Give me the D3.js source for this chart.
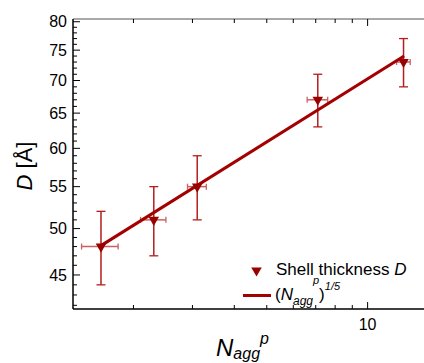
<!DOCTYPE html>
<html>
<head>
<meta charset="utf-8">
<script src="https://cdn.jsdelivr.net/npm/d3@7"></script>
<style>
  body { margin: 0; background: #fff; }
  svg { display: block; font-family: "Liberation Sans", Arial, sans-serif; }
</style>
</head>
<body>
<div id="plot"></div>
<script>
// measured points: aggregation number, shell thickness, errors
const nAgg = [1.6, 2.3, 3.1, 7.1, 12.8];
const nAggErr = [0.2, 0.2, 0.2, 0.5, 0.6];
const thickness = [48, 51, 55, 67, 73];
const thicknessErr = [4, 4, 4, 4, 4];

// power-law fit (slope 1/5 on log-log axes), drawn between its end points
const fitN = [1.6, 12.85];
const fitD = [48.1, 74.0];

const yMajor = [45, 50, 55, 60, 65, 70, 75, 80];
const yMinor = d3.range(42, 81);
const xMajor = [10];
const xMinor = [2, 3, 4, 5, 6, 7, 8, 9];

const W = 424, H = 363;
const plotLeft = 73, plotTop = 19, plotBottom = 309, plotRight = 436;

const points = nAgg.map((n, i) => ({
  x: n, xe: nAggErr[i], y: thickness[i], ye: thicknessErr[i]
}));
const fit = fitN.map((n, i) => ({ x: n, y: fitD[i] }));

const x = d3.scaleLog().domain([1.32, 16]).range([plotLeft, plotRight]);
const y = d3.scaleLog().domain([41.65, 80.5]).range([plotBottom, plotTop]);

const svg = d3.select("#plot").append("svg")
  .attr("width", W)
  .attr("height", H);

// frame
svg.append("line")
  .attr("x1", plotLeft).attr("x2", W + 20)
  .attr("y1", plotTop).attr("y2", plotTop)
  .attr("stroke", "#555").attr("stroke-width", 1.2);
svg.append("line")
  .attr("x1", plotLeft).attr("x2", W + 20)
  .attr("y1", plotBottom).attr("y2", plotBottom)
  .attr("stroke", "#000").attr("stroke-width", 1.5);
svg.append("line")
  .attr("x1", plotLeft).attr("x2", plotLeft)
  .attr("y1", plotTop).attr("y2", plotBottom)
  .attr("stroke", "#000").attr("stroke-width", 1.5);

// y ticks (inward)
svg.selectAll(".ymin").data(yMinor).enter().append("line")
  .attr("x1", plotLeft).attr("x2", d => plotLeft + (yMajor.includes(d) ? 7 : 4))
  .attr("y1", d => y(d)).attr("y2", d => y(d))
  .attr("stroke", "#000").attr("stroke-width", 1);

svg.selectAll(".ylab").data(yMajor).enter().append("text")
  .attr("x", plotLeft - 6)
  .attr("y", d => y(d))
  .attr("dy", "0.35em")
  .attr("text-anchor", "end")
  .attr("font-size", 16)
  .attr("fill", "#000")
  .text(d => d);

// x ticks, bottom and top (inward)
const xTicks = xMinor.concat(xMajor);
[plotBottom, plotTop].forEach(base => {
  const dir = base === plotBottom ? -1 : 1;
  svg.selectAll(null).data(xTicks).enter().append("line")
    .attr("x1", d => x(d)).attr("x2", d => x(d))
    .attr("y1", base)
    .attr("y2", d => base + dir * (xMajor.includes(d) ? 7 : 4))
    .attr("stroke", "#000").attr("stroke-width", 1);
});

svg.selectAll(".xlab").data(xMajor).enter().append("text")
  .attr("x", d => x(d))
  .attr("y", plotBottom + 21)
  .attr("text-anchor", "middle")
  .attr("font-size", 16)
  .attr("fill", "#000")
  .text(d => d);

// axis titles
const xt = svg.append("text")
  .attr("x", 216).attr("y", 356)
  .attr("font-size", 24).attr("fill", "#000");
xt.append("tspan").attr("font-style", "italic").text("N");
xt.append("tspan").attr("font-style", "italic").attr("font-size", 16).attr("dy", 3).text("agg");
xt.append("tspan").attr("font-style", "italic").attr("font-size", 16).attr("dy", -15).text("p");

const yt = svg.append("text")
  .attr("transform", "translate(32,166) rotate(-90)")
  .attr("text-anchor", "middle")
  .attr("font-size", 22).attr("fill", "#000");
yt.append("tspan").attr("font-style", "italic").text("D");
yt.append("tspan").text(" [Å]");

// horizontal error bars
const hCol = "#c86262", vCol = "#b41e1e";
const g = svg.append("g");
points.forEach(p => {
  const x0 = x(p.x - p.xe), x1 = x(p.x + p.xe), yc = y(p.y);
  g.append("line").attr("x1", x0).attr("x2", x1).attr("y1", yc).attr("y2", yc)
    .attr("stroke", hCol).attr("stroke-width", 1.5);
  [x0, x1].forEach(xx => g.append("line")
    .attr("x1", xx).attr("x2", xx).attr("y1", yc - 3).attr("y2", yc + 3)
    .attr("stroke", hCol).attr("stroke-width", 1.3));
});

// vertical error bars
points.forEach(p => {
  const xc = x(p.x), y0 = y(p.y - p.ye), y1 = y(p.y + p.ye);
  g.append("line").attr("x1", xc).attr("x2", xc).attr("y1", y0).attr("y2", y1)
    .attr("stroke", vCol).attr("stroke-width", 1.5);
  [y0, y1].forEach(yy => g.append("line")
    .attr("x1", xc - 4.5).attr("x2", xc + 4.5).attr("y1", yy).attr("y2", yy)
    .attr("stroke", vCol).attr("stroke-width", 1.3));
});

// fit line
svg.append("path")
  .datum(fit)
  .attr("d", d3.line().x(d => x(d.x)).y(d => y(d.y)))
  .attr("fill", "none")
  .attr("stroke", "#a30000")
  .attr("stroke-width", 3);

// markers
const tri = d3.symbol().type(d3.symbolTriangle).size(48);
svg.selectAll(".pt").data(points).enter().append("path")
  .attr("d", tri)
  .attr("transform", d => `translate(${x(d.x)},${y(d.y)}) rotate(180)`)
  .attr("fill", "#990000");

// legend
svg.append("path")
  .attr("d", tri)
  .attr("transform", "translate(256.5,270.5) rotate(180)")
  .attr("fill", "#990000");
const l1 = svg.append("text")
  .attr("x", 276).attr("y", 274.5)
  .attr("font-size", 17).attr("fill", "#000");
l1.append("tspan").text("Shell thickness ");
l1.append("tspan").attr("font-style", "italic").text("D");

svg.append("line")
  .attr("x1", 243).attr("x2", 271)
  .attr("y1", 295.5).attr("y2", 295.5)
  .attr("stroke", "#a30000").attr("stroke-width", 3);
const l2 = svg.append("text")
  .attr("x", 275).attr("y", 299.5)
  .attr("font-size", 17).attr("fill", "#000");
l2.append("tspan").text("(");
l2.append("tspan").attr("font-style", "italic").text("N");
l2.append("tspan").attr("font-style", "italic").attr("font-size", 12).attr("dy", 5).text("agg");
l2.append("tspan").attr("font-style", "italic").attr("font-size", 11).attr("dy", -21).text("p");
l2.append("tspan").attr("dy", 16).text(")");
l2.append("tspan").attr("font-style", "italic").attr("font-size", 11).attr("dy", -9.5).text("1/5");
</script>
</body>
</html>
